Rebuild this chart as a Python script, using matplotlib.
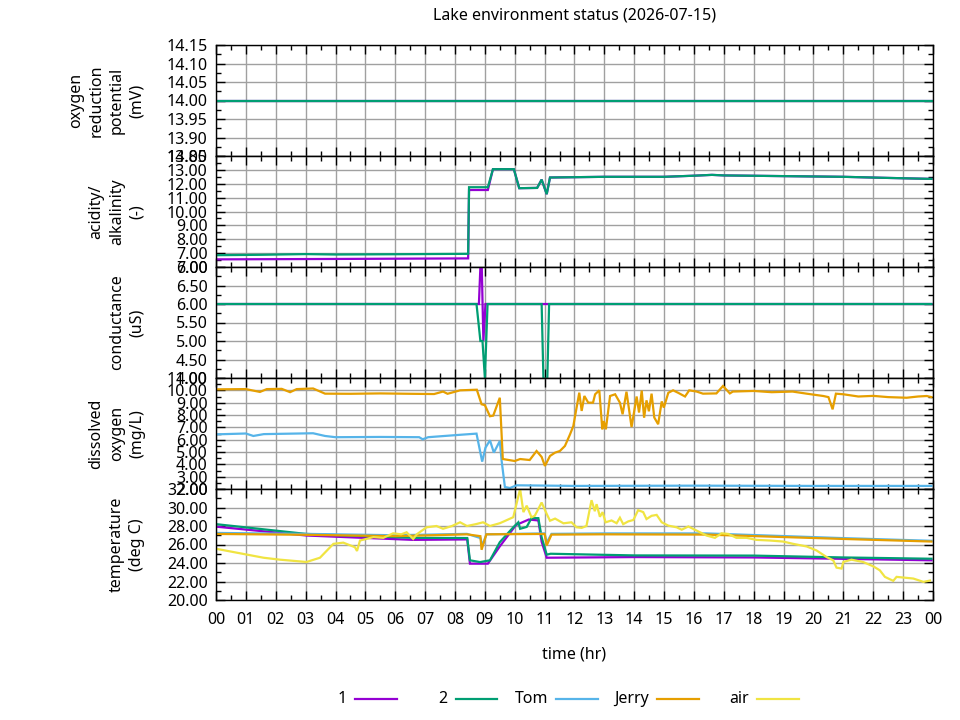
import numpy as np
import matplotlib
matplotlib.use("Agg")
import matplotlib.pyplot as plt
from matplotlib.lines import Line2D
from matplotlib.ticker import MultipleLocator, FormatStrFormatter

plt.rcParams['font.family'] = ['Noto Sans', 'DejaVu Sans']
plt.rcParams['font.size'] = 11.5

title = "Lake environment status (2026-07-15)"
series_names = ["1", "2", "Tom", "Jerry", "air"]
colors = {"1": "#9400d3", "2": "#009e73", "Tom": "#56b4e9",
          "Jerry": "#e69f00", "air": "#f0e442"}
hour_labels = ["%02d" % (h % 24) for h in range(25)]

# (hour, value) readings per sensor
orp_1 = [(0, 14.0), (23.95, 14.0)]
orp_2 = [(0, 14.0), (23.95, 14.0)]

ph_1 = [(0, 6.55), (4.0, 6.58), (8.44, 6.62), (8.47, 11.55), (9.1, 11.55), (9.27, 13.05),
        (9.97, 13.05), (10.15, 11.68), (10.75, 11.7), (10.9, 12.3), (11.07, 11.25),
        (11.18, 12.45), (13.0, 12.5), (15.0, 12.5), (16.0, 12.58), (16.6, 12.64),
        (17.0, 12.6), (19.0, 12.55), (21.0, 12.5), (22.5, 12.42), (23.95, 12.35)]
ph_2 = [(0, 6.85), (1.5, 6.88), (3.0, 6.93), (4.0, 6.9), (6.0, 6.92), (8.44, 6.95),
        (8.47, 11.75), (9.1, 11.75), (9.27, 13.05), (9.97, 13.05), (10.15, 11.68),
        (10.75, 11.7), (10.9, 12.3), (11.07, 11.25), (11.18, 12.45), (13.0, 12.5),
        (15.0, 12.5), (16.0, 12.58), (16.6, 12.64), (17.0, 12.6), (19.0, 12.55),
        (21.0, 12.5), (22.5, 12.42), (23.95, 12.35)]

cond_1 = [(0, 6.0), (8.8, 6.0), (8.88, 7.6), (8.95, 5.0), (9.02, 6.0), (23.95, 6.0)]
cond_2 = [(0, 6.0), (8.72, 6.0), (8.85, 5.0), (8.92, 5.0), (9.0, 4.0), (9.09, 6.0),
          (10.9, 6.0), (10.96, 3.98), (11.09, 3.98), (11.15, 6.0), (23.95, 6.0)]

do_tom = [(0, 6.43), (1.0, 6.5), (1.25, 6.3), (1.6, 6.45), (3.25, 6.52), (3.65, 6.3),
          (4.0, 6.2), (5.5, 6.22), (6.8, 6.2), (6.92, 6.03), (7.1, 6.2), (8.2, 6.4),
          (8.72, 6.49), (8.91, 4.22), (9.02, 5.35), (9.17, 5.95), (9.3, 4.95), (9.5, 5.89),
          (9.56, 4.3), (9.67, 2.16), (9.84, 2.08), (10.06, 2.3), (12.0, 2.25), (16.0, 2.27),
          (20.0, 2.25), (23.95, 2.25)]
do_jerry = [(0, 10.08), (1.0, 10.1), (1.47, 9.87), (1.7, 10.1), (2.2, 10.12), (2.48, 9.85),
            (2.7, 10.1), (3.25, 10.15), (3.65, 9.73), (4.5, 9.72), (5.5, 9.75), (6.5, 9.72),
            (7.3, 9.7), (7.6, 9.9), (7.75, 9.72), (8.17, 10.0), (8.73, 10.05), (8.89, 8.87),
            (9.0, 8.8), (9.17, 7.9), (9.28, 7.95), (9.5, 9.4), (9.6, 4.43), (10.0, 4.27),
            (10.18, 4.43), (10.5, 4.35), (10.73, 5.08), (10.9, 4.6), (11.01, 3.87),
            (11.18, 4.68), (11.35, 4.95), (11.51, 5.08), (11.68, 5.49), (11.85, 6.43),
            (11.96, 7.1), (12.07, 8.6), (12.16, 9.81), (12.24, 8.33), (12.33, 9.54),
            (12.46, 9.0), (12.62, 9.0), (12.69, 9.68), (12.83, 10.0), (12.93, 6.84),
            (12.98, 7.51), (13.05, 6.84), (13.19, 9.54), (13.36, 9.68), (13.52, 9.0),
            (13.61, 8.06), (13.74, 9.89), (13.91, 7.02), (14.08, 9.5), (14.16, 8.2),
            (14.25, 9.98), (14.33, 7.78), (14.41, 9.19), (14.49, 8.3), (14.58, 9.73),
            (14.67, 7.8), (14.8, 7.25), (14.92, 9.1), (14.99, 8.6), (15.14, 9.8),
            (15.3, 10.0), (15.47, 9.8), (15.7, 9.5), (15.84, 10.0), (16.09, 9.9),
            (16.3, 9.73), (16.75, 9.75), (16.97, 10.35), (17.2, 9.75), (17.3, 9.9),
            (18.0, 9.95), (18.6, 9.85), (19.3, 9.9), (19.77, 9.73), (20.33, 9.54),
            (20.5, 9.45), (20.64, 8.46), (20.75, 9.73), (21.0, 9.68), (21.5, 9.5),
            (22.0, 9.55), (22.5, 9.45), (23.12, 9.4), (23.5, 9.5), (23.79, 9.54),
            (23.95, 9.45)]

temp_1 = [(0, 27.93), (3.03, 26.97), (6.6, 26.5), (8.41, 26.55), (8.5, 23.93), (9.1, 23.93),
          (9.5, 25.8), (10.04, 28.1), (10.47, 28.7), (10.79, 28.6), (10.9, 26.3),
          (11.07, 24.57), (14.0, 24.64), (18.0, 24.6), (21.0, 24.45), (23.95, 24.29)]
temp_2 = [(0, 28.2), (3.03, 27.14), (6.6, 26.72), (8.41, 26.7), (8.5, 24.29), (8.84, 24.1),
          (9.17, 24.29), (9.5, 26.25), (9.95, 27.86), (10.12, 28.4), (10.18, 27.7),
          (10.4, 27.9), (10.56, 28.85), (10.79, 28.85), (10.9, 26.78), (11.07, 24.9),
          (11.2, 25.0), (14.0, 24.82), (18.0, 24.8), (21.0, 24.6), (23.95, 24.46)]
temp_tom = [(0, 27.25), (3.0, 27.15), (6.0, 27.0), (8.4, 27.15), (8.85, 26.7), (8.92, 25.9),
            (9.05, 27.1), (11.0, 27.2), (11.07, 26.2), (11.23, 27.15), (13.0, 27.2),
            (16.4, 27.2), (20.9, 26.7), (23.95, 26.4)]
temp_jerry = [(0, 27.14), (3.0, 27.05), (6.0, 26.9), (8.4, 27.1), (8.85, 26.9), (8.89, 25.43),
              (9.05, 27.1), (11.0, 27.14), (11.07, 25.9), (11.23, 27.07), (12.85, 27.1),
              (16.42, 27.07), (20.9, 26.61), (23.95, 26.32)]
temp_air = [(0, 25.54), (1.59, 24.57), (2.14, 24.36), (3.03, 24.11), (3.48, 24.57), (3.93, 26.07),
            (4.26, 26.2), (4.65, 25.71), (4.72, 25.3), (4.82, 26.43), (5.27, 26.8), (5.6, 26.72),
            (5.93, 27.21), (6.2, 27.1), (6.38, 27.32), (6.6, 26.6), (6.72, 27.1), (7.05, 27.86),
            (7.38, 28.0), (7.6, 27.7), (7.9, 28.0), (8.17, 28.4), (8.4, 28.0), (8.7, 28.2),
            (8.94, 28.4), (9.17, 28.0), (9.5, 28.3), (9.95, 28.95), (10.18, 32.0), (10.29, 29.5),
            (10.4, 30.2), (10.56, 28.95), (10.67, 29.1), (10.9, 30.54), (11.07, 29.3),
            (11.18, 28.57), (11.35, 28.8), (11.63, 28.29), (11.9, 28.4), (12.07, 27.86),
            (12.24, 27.8), (12.4, 28.0), (12.57, 30.79), (12.68, 29.6), (12.74, 30.36),
            (12.85, 29.0), (12.94, 29.5), (13.04, 28.4), (13.24, 28.6), (13.41, 28.3),
            (13.52, 28.9), (13.63, 28.2), (13.8, 28.5), (13.97, 28.65), (14.13, 29.71),
            (14.3, 29.5), (14.41, 28.75), (14.58, 29.1), (14.75, 29.2), (14.92, 28.4),
            (15.14, 28.04), (15.42, 27.86), (15.59, 27.6), (15.81, 27.95), (16.09, 27.5),
            (16.42, 26.97), (16.7, 26.72), (16.92, 27.21), (17.15, 27.14), (17.42, 26.72),
            (17.76, 26.72), (18.09, 26.5), (18.54, 26.43), (18.98, 26.32), (19.32, 26.07),
            (19.77, 25.79), (20.1, 25.36), (20.44, 24.64), (20.66, 24.29), (20.77, 23.5),
            (20.94, 23.4), (21.0, 24.11), (21.27, 24.36), (21.66, 24.11), (22.0, 23.64),
            (22.22, 23.21), (22.39, 22.5), (22.67, 22.07), (22.78, 22.5), (23.0, 22.43),
            (23.34, 22.32), (23.68, 21.96), (23.9, 22.1)]

panels = [
    ("oxygen\nreduction\npotential\n(mV)", (13.85, 14.15), 0.05, 0.025,
     {"1": orp_1, "2": orp_2}),
    ("acidity/\nalkalinity\n(-)", (6.0, 14.0), 1.0, 0.5,
     {"1": ph_1, "2": ph_2}),
    ("conductance\n(uS)", (4.0, 7.0), 0.5, 0.25,
     {"1": cond_1, "2": cond_2}),
    ("dissolved\noxygen\n(mg/L)", (2.0, 11.0), 1.0, 0.5,
     {"Tom": do_tom, "Jerry": do_jerry}),
    ("temperature\n(deg C)", (20.0, 32.0), 2.0, 1.0,
     {"1": temp_1, "2": temp_2, "Tom": temp_tom, "Jerry": temp_jerry, "air": temp_air}),
]

W, H = 960, 720
fig = plt.figure(figsize=(9.6, 7.2), dpi=100)
left_px, right_px, top_px, panel_px = 216, 933, 45, 111

axes = []
for k, (label, ylim, major, minor, data) in enumerate(panels):
    top = top_px + k * panel_px
    ax = fig.add_axes([left_px / W, 1 - (top + panel_px) / H,
                       (right_px - left_px) / W, panel_px / H])
    for name in series_names:
        if name in data:
            t, v = zip(*data[name])
            ax.plot(t, v, color=colors[name], lw=1.6, solid_joinstyle='miter')
    ax.set_xlim(0, 24)
    ax.set_ylim(*ylim)
    ax.set_yticks(np.round(np.arange(ylim[0], ylim[1] + major / 2, major), 4))
    ax.yaxis.set_minor_locator(MultipleLocator(minor))
    ax.yaxis.set_major_formatter(FormatStrFormatter('%.2f'))
    ax.set_xticks(range(25))
    ax.xaxis.set_minor_locator(MultipleLocator(0.5))
    ax.grid(True, which='major', color='#a0a0a0', lw=1)
    ax.set_axisbelow(True)
    ax.tick_params(which='both', direction='in', top=True, right=True, color='black')
    ax.tick_params(which='major', length=6.5, width=1, pad=6)
    ax.tick_params(which='minor', length=3.5, width=1)
    for s in ax.spines.values():
        s.set_linewidth(1)
    ax.text(-0.099, 0.5, label, transform=ax.transAxes, rotation=90,
            ha='right', va='center', multialignment='center', linespacing=1.35)
    if k < len(panels) - 1:
        ax.tick_params(labelbottom=False)
    else:
        ax.set_xticklabels(hour_labels)
        ax.tick_params(axis='x', which='major', pad=9)
        ax.set_xlabel("time (hr)", labelpad=13)
    axes.append(ax)

axes[0].set_title(title, fontsize=11.5, pad=18)

# key below the plot, text before sample line
for i, name in enumerate(series_names):
    x0 = 355 + 100.5 * i
    fig.text((x0 - 8) / W, 1 - 699 / H, name, ha='right', va='center')
    fig.add_artist(Line2D([x0 / W, (x0 + 42) / W], [1 - 699 / H, 1 - 699 / H],
                          color=colors[name], lw=1.6, transform=fig.transFigure))

fig.savefig("out.png", dpi=100)
